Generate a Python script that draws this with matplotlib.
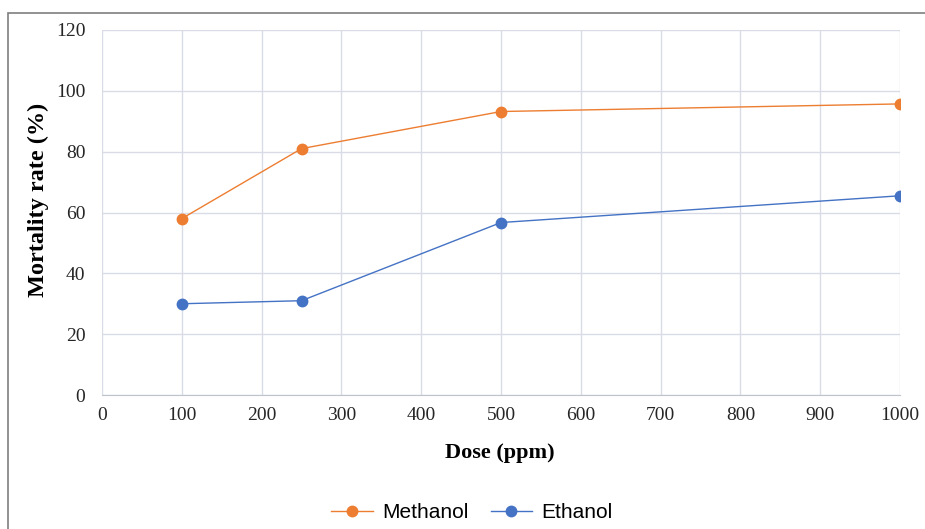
import matplotlib.pyplot as plt
from matplotlib.patches import Rectangle

dose = [100, 250, 500, 1000]
methanol = [58, 81, 93.2, 95.7]
ethanol = [30, 31, 56.7, 65.5]

x_ticks = list(range(0, 1001, 100))
y_ticks = list(range(0, 121, 20))

ORANGE = "#ED7D31"
BLUE = "#4472C4"
GRID = "#D9DCE6"

fig = plt.figure(figsize=(9.25, 5.29), dpi=100)
ax = fig.add_axes([102 / 925, 1 - 395 / 529, 798 / 925, 365 / 529])

ax.plot(dose, methanol, color=ORANGE, lw=1.0, marker="o", ms=7.5, label="Methanol")
ax.plot(dose, ethanol, color=BLUE, lw=1.0, marker="o", ms=7.5, label="Ethanol")

ax.set_xlim(0, 1000)
ax.set_ylim(0, 120)
ax.set_xticks(x_ticks)
ax.set_yticks(y_ticks)
ax.grid(True, color=GRID, lw=1.0)
ax.set_axisbelow(True)
for s in ["top", "right", "left"]:
    ax.spines[s].set_visible(False)
ax.spines["bottom"].set_color("#BFC3CC")
ax.tick_params(axis="y", length=0, labelsize=14, pad=12)
ax.tick_params(axis="x", length=0, labelsize=14, pad=9)
for lab in ax.get_xticklabels() + ax.get_yticklabels():
    lab.set_fontfamily("Liberation Serif")
    lab.set_color("#262626")

ax.set_xlabel("Dose (ppm)", fontfamily="Liberation Serif", fontweight="bold",
              fontsize=16, va="center")
ax.xaxis.set_label_coords(0.498, -0.159)
ax.set_ylabel("Mortality rate (%)", fontfamily="Liberation Serif", fontweight="bold",
              fontsize=17.5, va="center")
ax.yaxis.set_label_coords(-0.080, 0.534)

fig.legend(loc="center", bbox_to_anchor=(472 / 925, 1 - 513 / 529), ncol=2,
           frameon=False, prop={"family": "Liberation Sans", "size": 15},
           handlelength=2.0, columnspacing=1.05, handletextpad=0.45)

# outer chart frame
fig.patches.append(Rectangle((8 / 925, -0.1), 1.1, 1 - 13 / 529 + 0.1,
                             transform=fig.transFigure, fill=False,
                             edgecolor="#7F7F7F", lw=1.2))

fig.savefig("out.png", dpi=100)
